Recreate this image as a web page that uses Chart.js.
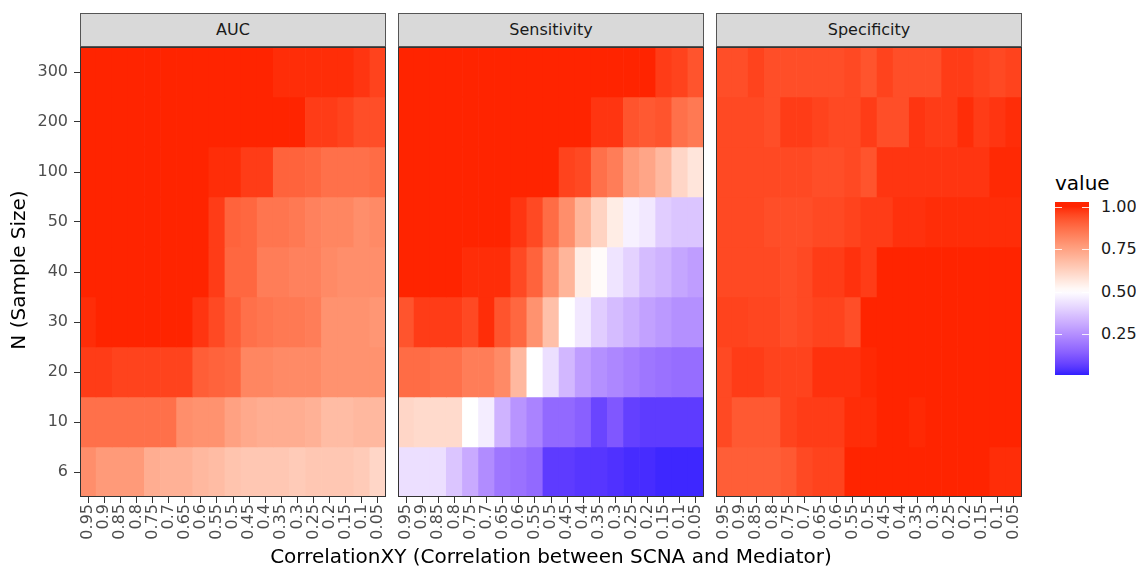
<!DOCTYPE html>
<html lang="en">
<head>
  <meta charset="UTF-8" />
  <title>Heatmap</title>
  <script src="https://cdn.jsdelivr.net/npm/chart.js@4"></script>
  <style>
    body {
      margin: 0;
      width: 1136px;
      height: 567px;
      position: relative;
      overflow: hidden;
      background: #fff;
      font-family: "DejaVu Sans", sans-serif;
    }
    canvas { position: absolute; }
    .strip {
      position: absolute;
      top: 13px;
      width: 304px;
      height: 32px;
      line-height: 32px;
      background: #d9d9d9;
      border: 1px solid #555;
      text-align: center;
      font-size: 16px;
      color: #1a1a1a;
    }
    .title {
      position: absolute;
      font-size: 20px;
      line-height: 24px;
      color: #000;
      white-space: nowrap;
    }
    .legend-label {
      position: absolute;
      left: 1101px;
      font-size: 16px;
      line-height: 24px;
      color: #1a1a1a;
    }
    .legend-tick {
      position: absolute;
      width: 7px;
      height: 1px;
      background: rgba(255, 255, 255, 0.85);
    }
  </style>
</head>
<body>
  <div class="strip" style="left:80px">AUC</div>
  <div class="strip" style="left:398px">Sensitivity</div>
  <div class="strip" style="left:716px">Specificity</div>

  <canvas id="aucChart" width="390" height="502" style="left:0px; top:47px"></canvas>
  <canvas id="sensChart" width="314" height="502" style="left:394px; top:47px"></canvas>
  <canvas id="specChart" width="314" height="502" style="left:712px; top:47px"></canvas>

  <div class="title" style="left:0; width:1102px; text-align:center; top:544px">CorrelationXY (Correlation between SCNA and Mediator)</div>
  <div class="title" style="left:-132px; top:258px; width:300px; text-align:center; transform:rotate(-90deg)">N (Sample Size)</div>

  <div class="title" style="left:1055px; top:171px">value</div>
  <div id="colorbar" style="position:absolute; left:1055px; top:202px; width:34px; height:173px"></div>
  <div id="legendTicks"></div>

  <script>
    // x categories and row labels (rows listed top to bottom)
    const correlations = ['0.95', '0.9', '0.85', '0.8', '0.75', '0.7', '0.65', '0.6', '0.55', '0.5',
                          '0.45', '0.4', '0.35', '0.3', '0.25', '0.2', '0.15', '0.1', '0.05'];
    const sampleSizes = ['300', '200', '100', '50', '40', '30', '20', '10', '6'];

    const aucValues = [
      [1, 1, 1, 1, 1, 1, 1, 1, 1, 1, 1, 1, 0.99, 0.99, 0.99, 0.99, 0.99, 0.98, 0.96],
      [1, 1, 1, 1, 1, 1, 1, 1, 1, 1, 1, 1, 1, 1, 0.97, 0.97, 0.96, 0.94, 0.94],
      [1, 1, 1, 1, 1, 1, 1, 1, 0.99, 0.99, 0.97, 0.97, 0.9, 0.9, 0.89, 0.87, 0.87, 0.87, 0.88],
      [1, 1, 1, 1, 1, 1, 1, 1, 0.97, 0.9, 0.89, 0.86, 0.86, 0.85, 0.83, 0.82, 0.82, 0.8, 0.81],
      [1, 1, 1, 1, 1, 1, 1, 1, 0.97, 0.89, 0.89, 0.84, 0.84, 0.83, 0.83, 0.81, 0.8, 0.8, 0.8],
      [0.99, 1, 1, 1, 1, 1, 1, 0.98, 0.95, 0.91, 0.87, 0.86, 0.85, 0.85, 0.84, 0.79, 0.79, 0.79, 0.78],
      [0.97, 0.97, 0.96, 0.96, 0.96, 0.96, 0.96, 0.91, 0.9, 0.89, 0.82, 0.82, 0.81, 0.81, 0.81, 0.79, 0.79, 0.79, 0.79],
      [0.87, 0.87, 0.87, 0.87, 0.87, 0.87, 0.8, 0.79, 0.79, 0.75, 0.73, 0.72, 0.72, 0.72, 0.71, 0.68, 0.68, 0.69, 0.69],
      [0.8, 0.77, 0.77, 0.77, 0.72, 0.71, 0.71, 0.69, 0.68, 0.66, 0.65, 0.65, 0.65, 0.64, 0.65, 0.65, 0.65, 0.64, 0.61]
    ];

    const sensitivityValues = [
      [1, 1, 1, 1, 1, 1, 1, 1, 1, 1, 1, 1, 1, 1, 1, 1, 0.97, 0.96, 0.93],
      [1, 1, 1, 1, 1, 1, 1, 1, 1, 1, 1, 1, 0.98, 0.98, 0.93, 0.92, 0.93, 0.87, 0.85],
      [1, 1, 1, 1, 1, 1, 1, 1, 1, 1, 0.96, 0.95, 0.87, 0.84, 0.77, 0.74, 0.69, 0.61, 0.57],
      [1, 1, 1, 1, 1, 1, 1, 0.98, 0.95, 0.88, 0.8, 0.7, 0.62, 0.55, 0.47, 0.45, 0.39, 0.37, 0.37],
      [1, 1, 1, 1, 0.99, 0.99, 0.99, 0.95, 0.9, 0.8, 0.7, 0.55, 0.51, 0.44, 0.4, 0.35, 0.33, 0.3, 0.28],
      [0.93, 0.97, 0.97, 0.97, 0.95, 0.99, 0.93, 0.89, 0.79, 0.67, 0.5, 0.45, 0.39, 0.35, 0.32, 0.29, 0.27, 0.25, 0.25],
      [0.88, 0.88, 0.87, 0.87, 0.84, 0.84, 0.81, 0.69, 0.5, 0.43, 0.34, 0.28, 0.25, 0.23, 0.21, 0.19, 0.18, 0.17, 0.17],
      [0.61, 0.6, 0.6, 0.6, 0.5, 0.46, 0.33, 0.26, 0.22, 0.16, 0.16, 0.14, 0.08, 0.12, 0.07, 0.06, 0.06, 0.06, 0.06],
      [0.43, 0.43, 0.43, 0.37, 0.31, 0.24, 0.19, 0.18, 0.16, 0.06, 0.06, 0.05, 0.05, 0.04, 0.03, 0.03, 0.02, 0.02, 0.02]
    ];

    const specificityValues = [
      [0.94, 0.94, 0.96, 0.94, 0.94, 0.94, 0.94, 0.94, 0.95, 0.93, 0.96, 0.94, 0.94, 0.94, 0.97, 0.97, 0.96, 0.95, 0.96],
      [0.95, 0.95, 0.95, 0.94, 0.97, 0.97, 0.96, 0.95, 0.95, 0.97, 0.94, 0.94, 0.98, 0.97, 0.97, 0.99, 0.97, 0.98, 0.99],
      [0.95, 0.95, 0.95, 0.95, 0.95, 0.95, 0.94, 0.94, 0.95, 0.93, 0.98, 0.98, 0.98, 0.98, 0.98, 0.98, 0.98, 0.995, 0.995],
      [0.95, 0.95, 0.95, 0.94, 0.94, 0.94, 0.95, 0.95, 0.96, 0.97, 0.97, 0.985, 0.985, 0.99, 0.99, 0.99, 0.99, 0.99, 0.99],
      [0.95, 0.95, 0.95, 0.95, 0.94, 0.95, 0.97, 0.97, 0.985, 0.97, 1, 1, 1, 1, 1, 1, 1, 1, 1],
      [0.96, 0.96, 0.955, 0.955, 0.94, 0.95, 0.96, 0.96, 0.94, 1, 1, 1, 1, 1, 1, 1, 1, 1, 1],
      [0.95, 0.97, 0.97, 0.96, 0.96, 0.96, 0.985, 0.985, 0.985, 0.995, 1, 1, 1, 1, 1, 1, 1, 1, 1],
      [0.95, 0.92, 0.92, 0.92, 0.96, 0.97, 0.97, 0.97, 0.99, 0.99, 1, 1, 0.995, 1, 1, 1, 1, 1, 1],
      [0.91, 0.91, 0.91, 0.91, 0.92, 0.95, 0.96, 0.96, 1, 1, 1, 1, 1, 1, 1, 1, 1, 0.99, 0.99]
    ];

    const legendBreaks = [1.0, 0.75, 0.5, 0.25];

    // colour scale: blue - white - red, mid 0.5, interpolated in Lab like ggplot
    function toLin(c) { c /= 255; return c <= 0.04045 ? c / 12.92 : Math.pow((c + 0.055) / 1.055, 2.4); }
    function toSrgb(c) {
      c = c <= 0.0031308 ? 12.92 * c : 1.055 * Math.pow(c, 1 / 2.4) - 0.055;
      return Math.round(Math.max(0, Math.min(1, c)) * 255);
    }
    const WX = 0.95047, WZ = 1.08883;
    function f(t) { return t > 0.008856 ? Math.cbrt(t) : 7.787 * t + 16 / 116; }
    function fi(t) { return t > 0.206893 ? t * t * t : (t - 16 / 116) / 7.787; }
    function rgbToLab([r, g, b]) {
      r = toLin(r); g = toLin(g); b = toLin(b);
      const x = (0.4124 * r + 0.3576 * g + 0.1805 * b) / WX;
      const y = 0.2126 * r + 0.7152 * g + 0.0722 * b;
      const z = (0.0193 * r + 0.1192 * g + 0.9505 * b) / WZ;
      return [116 * f(y) - 16, 500 * (f(x) - f(y)), 200 * (f(y) - f(z))];
    }
    function labToRgb([L, a, bb]) {
      const fy = (L + 16) / 116, fx = fy + a / 500, fz = fy - bb / 200;
      const x = fi(fx) * WX, y = fi(fy), z = fi(fz) * WZ;
      const r = 3.2406 * x - 1.5372 * y - 0.4986 * z;
      const g = -0.9689 * x + 1.8758 * y + 0.0415 * z;
      const b = 0.0557 * x - 0.2040 * y + 1.0570 * z;
      return [toSrgb(r), toSrgb(g), toSrgb(b)];
    }
    const highLab = rgbToLab([255, 36, 0]);
    const midLab = rgbToLab([255, 255, 255]);
    const lowLab = rgbToLab([36, 26, 255]);

    function colorFor(v) {
      const t = Math.min(1, Math.abs(v - 0.5) / 0.5);
      const end = v >= 0.5 ? highLab : lowLab;
      const lab = midLab.map((m, i) => m + (end[i] - m) * t);
      const [r, g, b] = labToRgb(lab);
      return `rgb(${r},${g},${b})`;
    }

    const FONT = '"DejaVu Sans", sans-serif';

    const panelBorder = {
      id: 'panelBorder',
      afterDraw(chart) {
        const { ctx, chartArea: a } = chart;
        ctx.save();
        ctx.strokeStyle = '#333333';
        ctx.lineWidth = 1;
        ctx.strokeRect(a.left + 0.5, a.top + 0.5, a.width - 1, a.height - 1);
        ctx.restore();
      }
    };

    function makePanel(canvasId, values, showY) {
      const nRows = sampleSizes.length;
      // one dataset per sample size, bottom row first; each bar spans its row
      const datasets = values.map((row, r) => {
        const level = nRows - 1 - r;
        return {
          label: sampleSizes[r],
          data: row.map(() => [level, level + 1]),
          backgroundColor: row.map(colorFor),
          borderWidth: 0,
          barPercentage: 1,
          categoryPercentage: 1,
          grouped: false
        };
      });

      new Chart(document.getElementById(canvasId), {
        type: 'bar',
        data: { labels: correlations, datasets },
        options: {
          responsive: false,
          animation: false,
          devicePixelRatio: 1,
          layout: { padding: { left: showY ? 0 : 4, right: 4, top: 0, bottom: 0 } },
          plugins: { legend: { display: false }, tooltip: { enabled: false } },
          scales: {
            x: {
              grid: { display: true, drawOnChartArea: false, offset: false, tickLength: 6, color: '#333333' },
              border: { display: false },
              ticks: {
                autoSkip: false, minRotation: 90, maxRotation: 90, padding: 1,
                color: '#4d4d4d', font: { family: FONT, size: 16 }
              },
              afterFit(scale) { scale.height = 52; scale.paddingLeft = 0; scale.paddingRight = 0; }
            },
            y: {
              display: showY,
              min: 0,
              max: nRows,
              grid: { display: true, drawOnChartArea: false, tickLength: 6, color: '#333333' },
              border: { display: false },
              ticks: {
                padding: 6,
                color: '#4d4d4d',
                font: { family: FONT, size: 16 },
                callback: (value, index) => sampleSizes[nRows - 1 - index]
              },
              afterBuildTicks(scale) {
                scale.ticks = sampleSizes.map((_, i) => ({ value: i + 0.5 }));
              },
              afterFit(scale) {
                scale.width = showY ? 80 : 0;
                scale.paddingTop = 0;
                scale.paddingBottom = 0;
              }
            }
          }
        },
        plugins: [panelBorder]
      });
    }

    makePanel('aucChart', aucValues, true);
    makePanel('sensChart', sensitivityValues, false);
    makePanel('specChart', specificityValues, false);

    // colour bar legend
    const barTop = 202, barHeight = 173, y1 = 206.7, perUnit = 169.6;
    const valueAt = y => 1 - (y - y1) / perUnit;
    const stops = [];
    for (let i = 0; i <= 40; i++) {
      const y = barTop + barHeight * i / 40;
      stops.push(`${colorFor(valueAt(y))} ${(i / 40 * 100).toFixed(1)}%`);
    }
    document.getElementById('colorbar').style.background = `linear-gradient(to bottom, ${stops.join(', ')})`;

    const tickHolder = document.getElementById('legendTicks');
    legendBreaks.forEach(b => {
      const y = y1 + (1 - b) * perUnit;
      const lab = document.createElement('div');
      lab.className = 'legend-label';
      lab.style.top = (y - 12) + 'px';
      lab.textContent = b.toFixed(2);
      tickHolder.appendChild(lab);
      [1055, 1082].forEach(x => {
        const t = document.createElement('div');
        t.className = 'legend-tick';
        t.style.left = x + 'px';
        t.style.top = Math.round(y) + 'px';
        tickHolder.appendChild(t);
      });
    });
  </script>
</body>
</html>
